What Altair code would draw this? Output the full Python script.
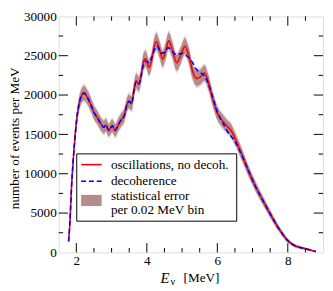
import altair as alt
import pandas as pd

# ---- data ----
E_red = [1.78,1.82,1.86,1.9,1.95,2.0,2.05,2.1,2.16,2.22,2.3,2.4,2.5,2.6,2.7,
         2.78,2.84,2.92,3.02,3.1,3.2,3.28,3.36,3.43,3.5,3.57,3.63,3.7,3.77,3.84,
         3.9,3.97,4.06,4.14,4.2,4.27,4.36,4.45,4.54,4.62,4.72,4.85,4.96,5.08,5.18,
         5.3,5.42,5.52,5.64,5.74,5.87,6.0,6.15,6.28,6.39,6.5,6.7,6.88,7.06,7.28,
         7.5,7.75,8.0,8.2,8.45,8.65,8.8]
V_red = [1400,4000,8000,11000,14000,16500,18200,19300,20000,20250,19800,18900,17800,17100,16300,
         15900,16200,15500,16100,15500,16300,16900,17400,18700,19200,18900,20500,21800,21400,22500,
         24200,24600,23500,24500,26000,26800,25800,24600,25700,26900,25800,24100,25000,26200,25200,
         23000,22100,22300,22800,21700,19500,17700,16700,16000,15500,14500,12400,10400,8600,6700,
         4900,3000,1500,850,520,280,100]
ERR_red = [230,400,570,670,760,820,860,880,900,900,890,870,850,830,810,
           800,810,790,810,790,810,830,840,870,880,870,910,940,930,950,
           990,1000,970,1000,1030,1040,1030,1000,1020,1040,1030,990,1010,1030,1010,
           960,950,950,960,940,890,850,820,800,790,770,710,650,590,520,
           450,350,240,190,140,110,60]

E_blue = [1.78,1.82,1.86,1.9,1.95,2.0,2.05,2.1,2.16,2.22,2.3,2.4,2.5,2.6,2.7,
          2.78,2.84,2.92,3.02,3.1,3.2,3.28,3.36,3.43,3.5,3.57,3.63,3.7,3.77,3.84,
          3.9,3.98,4.06,4.14,4.22,4.3,4.4,4.5,4.6,4.7,4.8,4.9,5.0,5.1,5.2,
          5.3,5.4,5.5,5.6,5.7,5.8,5.9,6.0,6.1,6.2,6.3,6.4,6.5,6.7,6.88,
          7.06,7.28,7.5,7.75,8.0,8.2,8.45,8.65,8.8]
V_blue = [1400,4000,8000,11000,14000,16500,18200,19300,20000,20250,19800,18900,17800,17100,16300,
          15900,16200,15500,16100,15500,16300,16900,17400,18700,19200,18900,20500,21700,21400,22400,
          23800,24300,24100,24800,25800,26200,25300,25400,26000,25700,25200,25200,25300,25100,24700,
          24100,23300,22900,22600,21900,20700,19300,17900,16900,16100,15300,14700,14100,12300,10400,
          8600,6700,4900,3000,1500,850,520,280,100]

X_MAJOR = [2, 4, 6, 8]
X_MINOR = [2.5, 3, 3.5, 4.5, 5, 5.5, 6.5, 7, 7.5, 8.5]
Y_MAJOR = [0, 5000, 10000, 15000, 20000, 25000, 30000]
Y_MINOR = [2500, 7500, 12500, 17500, 22500, 27500]

LEGEND_LABELS = ["oscillations, no decoh.", "decoherence", "statistical error", "per 0.02 MeV bin"]

# ---- layout ----
W, H = 271, 242
FONT = "Liberation Serif"
FS = 13.5
BAND = "#b58b8b"

red = pd.DataFrame({"E": E_red, "v": V_red, "err": ERR_red})
red["lo"] = red["v"] - red["err"]
red["hi"] = red["v"] + red["err"]
red["lo2"] = red["v"] - red["err"] * 1.3
red["hi2"] = red["v"] + red["err"] * 1.3
blue = pd.DataFrame({"E": E_blue, "v": V_blue})

xs = alt.Scale(domain=[1.5, 9], nice=False, zero=False)
ys = alt.Scale(domain=[0, 30000], nice=False)

xax = alt.Axis(values=X_MAJOR, ticks=False, domain=False, grid=False, labelFont=FONT,
               labelFontSize=FS, labelColor="black", labelPadding=1, title=None, format="d")
yax = alt.Axis(values=Y_MAJOR, ticks=False, domain=False, grid=False, labelFont=FONT,
               labelFontSize=FS, labelColor="black", labelPadding=2.5, title=None, format="d")

base = alt.Chart(red)

band_outer = base.mark_area(color=BAND, opacity=0.35, interpolate="monotone").encode(
    x=alt.X("E:Q", scale=xs, axis=xax), y=alt.Y("lo2:Q", scale=ys, axis=yax), y2="hi2:Q")
band = base.mark_area(color=BAND, opacity=1, interpolate="monotone").encode(
    x=alt.X("E:Q", scale=xs), y=alt.Y("lo:Q", scale=ys), y2="hi:Q")
red_line = base.mark_line(color="#ff0000", strokeWidth=1.6, interpolate="monotone").encode(
    x=alt.X("E:Q", scale=xs), y=alt.Y("v:Q", scale=ys))
blue_line = alt.Chart(blue).mark_line(color="#0000ff", strokeWidth=1.6, strokeDash=[5, 3],
                                      interpolate="monotone").encode(
    x=alt.X("E:Q", scale=xs), y=alt.Y("v:Q", scale=ys))

def xticks(vals, L):
    d = pd.DataFrame({"t": vals})
    bot = alt.Chart(d).mark_rule(color="black", strokeWidth=1).encode(
        x=alt.X("t:Q", scale=xs), y=alt.value(H), y2=alt.value(H - L))
    top = alt.Chart(d).mark_rule(color="black", strokeWidth=1).encode(
        x=alt.X("t:Q", scale=xs), y=alt.value(0), y2=alt.value(L))
    return [bot, top]

def yticks(vals, L):
    d = pd.DataFrame({"t": vals})
    left = alt.Chart(d).mark_rule(color="black", strokeWidth=1).encode(
        y=alt.Y("t:Q", scale=ys), x=alt.value(0), x2=alt.value(L))
    right = alt.Chart(d).mark_rule(color="black", strokeWidth=1).encode(
        y=alt.Y("t:Q", scale=ys), x=alt.value(W), x2=alt.value(W - L))
    return [left, right]

ticks = xticks(X_MAJOR, 9.5) + xticks(X_MINOR, 4.5) + yticks(Y_MAJOR[1:-1], 9.5) + yticks(Y_MINOR, 4.5)

one = pd.DataFrame({"a": [0]})
leg_box = alt.Chart(one).mark_rect(fill="white", stroke="black", strokeWidth=1).encode(
    x=alt.value(18.5), x2=alt.value(182.5), y=alt.value(141), y2=alt.value(210))
leg_red = alt.Chart(one).mark_rule(color="#ff0000", strokeWidth=1.6).encode(
    x=alt.value(23), x2=alt.value(44), y=alt.value(152))
leg_blue = alt.Chart(one).mark_rule(color="#0000ff", strokeWidth=1.6, strokeDash=[5, 3]).encode(
    x=alt.value(23), x2=alt.value(44), y=alt.value(169))
leg_sw = alt.Chart(one).mark_rect(fill=BAND).encode(
    x=alt.value(23), x2=alt.value(44), y=alt.value(183), y2=alt.value(194.5))

leg_text = alt.Chart(pd.DataFrame({"label": LEGEND_LABELS, "yy": [152, 169, 184.5, 199]})).mark_text(
    font=FONT, fontSize=FS, align="left", baseline="middle", color="black").encode(
    x=alt.value(53.5), y=alt.Y("yy:Q", scale=None), text="label:N")

t_E = alt.Chart(one).mark_text(font=FONT, fontSize=15, fontStyle="italic", align="center",
                               baseline="middle", color="black", text="E").encode(
    x=alt.value(109), y=alt.value(H + 26))
t_nu = alt.Chart(one).mark_text(font=FONT, fontSize=10.5, align="left", baseline="middle",
                                color="black", text="ν").encode(
    x=alt.value(114.5), y=alt.value(H + 30))
t_mev = alt.Chart(one).mark_text(font=FONT, fontSize=FS, align="left", baseline="middle",
                                 color="black", text="[MeV]").encode(
    x=alt.value(128), y=alt.value(H + 26))
t_y = alt.Chart(one).mark_text(font=FONT, fontSize=FS, angle=270, align="center", baseline="middle",
                               color="black", text="number of events per MeV").encode(
    x=alt.value(-44.5), y=alt.value(H / 2 + 4))

chart = alt.layer(
    band_outer, band, red_line, blue_line, *ticks,
    leg_box, leg_red, leg_blue, leg_sw, leg_text, t_E, t_nu, t_mev, t_y
).properties(
    width=W, height=H, autosize="none",
    padding={"left": 52, "top": 5, "right": 2, "bottom": 36}
).configure_view(stroke="black", strokeWidth=1).configure(background="white")

chart.save("out.html", embed_options={"renderer": "svg", "actions": False})
